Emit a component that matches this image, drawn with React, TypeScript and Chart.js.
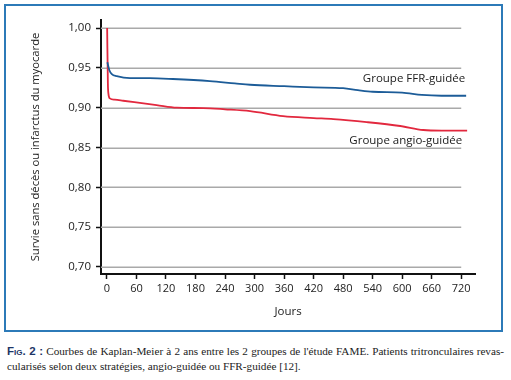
import React, { useEffect, useRef } from 'react';
import { Chart, registerables } from 'chart.js';
Chart.register(...registerables);

// ---- data ----
const ffrDays = [1, 5, 10, 20, 47, 87, 134, 209, 260, 291, 360, 420, 480, 510, 540, 600, 640, 680, 730];
const ffrSurv = [0.957, 0.947, 0.942, 0.9395, 0.937, 0.937, 0.936, 0.9334, 0.9305, 0.9288, 0.927, 0.9255, 0.9245, 0.922, 0.92, 0.919, 0.916, 0.915, 0.915];
const angioDays = [0.5, 2, 3, 6, 16, 33, 67, 101, 142, 196, 240, 291, 358, 420, 460, 528, 596, 643, 680, 732];
const angioSurv = [1.0, 0.93, 0.918, 0.9117, 0.91, 0.9087, 0.906, 0.9033, 0.9, 0.8995, 0.898, 0.8957, 0.8894, 0.887, 0.8857, 0.8819, 0.877, 0.872, 0.8712, 0.8712];
const xTickValues = [0, 60, 120, 180, 240, 300, 360, 420, 480, 540, 600, 660, 720];
const yTickValues = [0.7, 0.75, 0.8, 0.85, 0.9, 0.95, 1.0];
const seriesNames = ['Groupe FFR-guidée', 'Groupe angio-guidée'];
const labelAnchorsX = [728, 722];
const labelAnchorsY = [0.936, 0.859];
const xTitle = 'Jours';
const yTitle = 'Survie sans décès ou infarctus du myocarde';

const FONT = '"Open Sans", "DejaVu Sans", sans-serif';
const BLUE = '#1c5c98';
const RED = '#e2283e';

const gridPlugin = {
  id: 'partialGrid',
  beforeDatasetsDraw(chart: any) {
    const { ctx, chartArea, scales } = chart;
    const xs = scales.x, ys = scales.y;
    const xEnd = xs.getPixelForValue(720);
    ctx.save();
    ctx.strokeStyle = '#a9a9a9';
    ctx.lineWidth = 1.5;
    yTickValues.forEach((v) => {
      const y = Math.round(ys.getPixelForValue(v)) + 0.25;
      ctx.beginPath();
      ctx.moveTo(chartArea.left, y);
      ctx.lineTo(xEnd, y);
      ctx.stroke();
    });
    ctx.restore();
  },
  afterDatasetsDraw(chart: any) {
    const { ctx, scales } = chart;
    ctx.save();
    ctx.font = `11.5px ${FONT}`;
    ctx.fillStyle = '#1a1a1a';
    ctx.textAlign = 'right';
    ctx.textBaseline = 'middle';
    seriesNames.forEach((n, i) => {
      ctx.fillText(n, scales.x.getPixelForValue(labelAnchorsX[i]), scales.y.getPixelForValue(labelAnchorsY[i]));
    });
    ctx.restore();
  },
};

function KMChart() {
  const ref = useRef<HTMLCanvasElement | null>(null);
  useEffect(() => {
    if (!ref.current) return;
    const chart = new Chart(ref.current, {
      type: 'line',
      data: {
        datasets: [
          {
            label: seriesNames[0],
            data: ffrDays.map((d, i) => ({ x: d, y: ffrSurv[i] })),
            borderColor: BLUE,
            borderWidth: 1.8,
            pointRadius: 0,
            cubicInterpolationMode: 'monotone',
            fill: false,
          },
          {
            label: seriesNames[1],
            data: angioDays.map((d, i) => ({ x: d, y: angioSurv[i] })),
            borderColor: RED,
            borderWidth: 1.8,
            pointRadius: 0,
            cubicInterpolationMode: 'monotone',
            fill: false,
          },
        ],
      },
      options: {
        animation: false,
        responsive: false,
        maintainAspectRatio: false,
        layout: { padding: { top: 14, right: 26, left: 0, bottom: 0 } },
        plugins: { legend: { display: false }, tooltip: { enabled: false } },
        scales: {
          x: {
            type: 'linear',
            min: -12,
            max: 748,
            afterBuildTicks: (s: any) => { s.ticks = xTickValues.map((v) => ({ value: v })); },
            afterFit: (s: any) => { s.height = 56; },
            grid: { display: true, drawOnChartArea: false, drawTicks: true, tickLength: 5, tickColor: '#111', tickWidth: 1.5 },
            border: { display: true, color: '#111', width: 2 },
            ticks: { font: { family: FONT, size: 11 }, color: '#222', padding: 3, maxRotation: 0, autoSkip: false, callback: (v: any) => String(v) },
            title: { display: true, text: xTitle, font: { family: FONT, size: 11.5 }, color: '#222', padding: { top: 0, bottom: 11 } },
          },
          y: {
            type: 'linear',
            min: 0.6912,
            max: 1.0101,
            afterBuildTicks: (s: any) => { s.ticks = yTickValues.map((v) => ({ value: v })); },
            afterFit: (s: any) => { s.width = 95; },
            grid: { display: true, drawOnChartArea: false, drawTicks: true, tickLength: 5, tickColor: '#111', tickWidth: 1.5 },
            border: { display: true, color: '#111', width: 2 },
            ticks: { font: { family: FONT, size: 11.5 }, color: '#222', padding: 5, callback: (v: any) => Number(v).toFixed(2).replace('.', ',') },
            title: { display: true, text: yTitle, font: { family: FONT, size: 11.2 }, color: '#222', padding: { top: 23, bottom: 0 } },
          },
        },
      },
      plugins: [gridPlugin],
    } as any);
    return () => chart.destroy();
  }, []);
  return <canvas ref={ref} width={495} height={324} style={{ position: 'absolute', left: 0, top: 0, width: 495, height: 324 }} />;
}

export default function App() {
  return (
    <div style={{ position: 'fixed', left: 0, top: 0, width: 511, height: 380, background: '#fff', overflow: 'hidden' }}>
      <div style={{ position: 'absolute', left: 4, top: 4, width: 499, height: 328, border: '2px solid #2c7ab8', boxSizing: 'border-box' }}>
        <KMChart />
      </div>
      <div style={{ position: 'absolute', left: 7, top: 344, width: 497, fontFamily: '"Liberation Serif", "DejaVu Serif", serif', fontSize: 11.2, lineHeight: '15px', color: '#222' }}>
        <div style={{ textAlign: 'justify', textAlignLast: 'justify' as any }}>
          <span style={{ fontVariant: 'small-caps', fontWeight: 'bold', color: '#1d3566', fontFamily: '"Liberation Sans", sans-serif', fontSize: 11.5 }}>Fig. 2 :</span> Courbes de Kaplan-Meier à 2 ans entre les 2 groupes de l'étude FAME. Patients tritronculaires revas-
        </div>
        <div>cularisés selon deux stratégies, angio-guidée ou FFR-guidée [12].</div>
      </div>
    </div>
  );
}
